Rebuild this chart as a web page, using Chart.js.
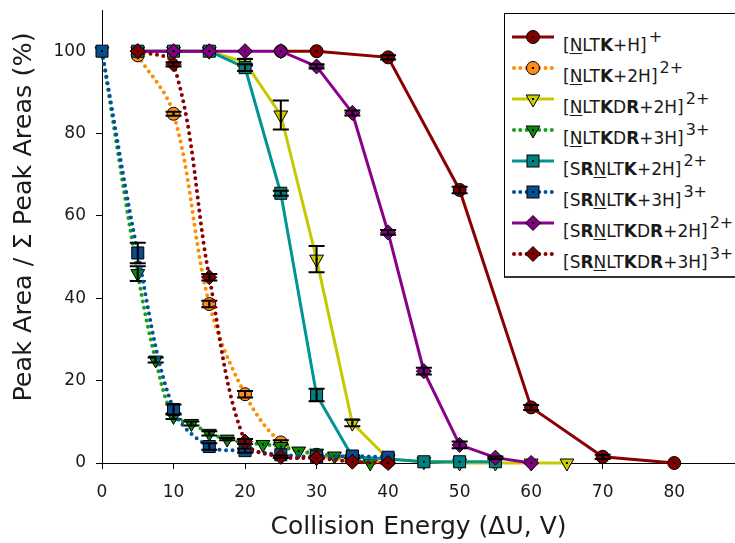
<!DOCTYPE html>
<html>
<head>
<meta charset="utf-8">
<script src="https://cdn.jsdelivr.net/npm/chart.js@4.4.0/dist/chart.umd.min.js"></script>
<style>
html,body{margin:0;padding:0;background:#fff;overflow:hidden;}
#wrap{position:relative;width:735px;height:543px;}
#c{position:absolute;left:0;top:0;}
#legend{position:absolute;left:504px;top:13px;width:260px;height:262px;border:1px solid #000;border-bottom:2px solid #333;background:#fff;font-family:"DejaVu Sans",Verdana,sans-serif;color:#1a1a1a;}
#legend .row{position:absolute;left:0;height:20px;}
#legend svg{position:absolute;left:7px;top:0;}
#legend .lbl{position:absolute;left:58px;top:0;font-size:17px;line-height:20px;white-space:nowrap;}
#legend .lbl u{text-decoration-thickness:1px;text-underline-offset:2px;}
#legend .lbl sup{font-size:16px;position:relative;top:-9px;vertical-align:baseline;margin-left:2px;}
</style>
</head>
<body>
<div id="wrap">
<canvas id="c" width="735" height="543"></canvas>
<div id="legend"></div>
</div>
<script>
// tick labels
var xTicks = [0,10,20,30,40,50,60,70,80];
var yTicks = [0,20,40,60,80,100];

// series names (html for legend)
var names = [
	'[<u>N</u>LT<b>K</b>+H]<sup>+</sup>',
	'[<u>N</u>LT<b>K</b>+2H]<sup>2+</sup>',
	'[<u>N</u>LT<b>K</b>D<b>R</b>+2H]<sup>2+</sup>',
	'[<u>N</u>LT<b>K</b>D<b>R</b>+3H]<sup>3+</sup>',
	'[S<b>R</b><u>N</u>LT<b>K</b>+2H]<sup>2+</sup>',
	'[S<b>R</b><u>N</u>LT<b>K</b>+3H]<sup>3+</sup>',
	'[S<b>R</b><u>N</u>LT<b>K</b>D<b>R</b>+2H]<sup>2+</sup>',
	'[S<b>R</b><u>N</u>LT<b>K</b>D<b>R</b>+3H]<sup>3+</sup>'
];
var plainNames = ['[NLTK+H]+','[NLTK+2H]2+','[NLTKDR+2H]2+','[NLTKDR+3H]3+','[SRNLTK+2H]2+','[SRNLTK+3H]3+','[SRNLTKDR+2H]2+','[SRNLTKDR+3H]3+'];

// values: collision energy (x), peak area % (y), error (+/-)
var s1X = [25,30,40,50,60,70,80];
var s1Y = [100,100,98.5,66.3,13.5,1.5,0];
var s1Err = [0,0,0.5,0.8,0.6,0.5,0];

var s2X = [5,10,15,20,25,30,35,40];
var s2Y = [99,84.8,38.6,16.7,5,2,0.8,0.3];
var s2Err = [0,0.5,0.8,0.8,0.5,0,0,0];

var s3X = [5,10,15,20,25,30,35,40,45,50,55,60,65];
var s3Y = [100,100,100,97.3,84.5,49.5,9.7,1,0.3,0,0,0,0];
var s3Err = [0,0,0,0.8,3.5,3.2,0.8,0,0,0,0,0,0];

var s4X = [0,5,7.5,10,12.5,15,17.5,20,22.5,25,27.5,30,32.5,35,37.5];
var s4Y = [100,46,25,11.3,9.6,7.2,5.8,5,4.5,4,2.9,2.4,1.7,1,0];
var s4Err = [0,1.8,0.6,0.6,0.5,0.5,0.3,0,0,0,0,0,0,0,0];

var s5X = [5,10,15,20,25,30,35,40,45,50,55];
var s5Y = [100,100,100,96,65.5,16.5,1.5,1,0.3,0.3,0.3];
var s5Err = [0,0,0,0.8,0.6,1.5,0.3,0,0,0,0];

var s6X = [0,5,10,15,20,25,30,35,40];
var s6Y = [100,51,13,4,3,2,1.5,1.7,1.4];
var s6Err = [0,2.5,1.2,0.8,0.5,0,0,0,0];

var s7X = [5,10,15,20,25,30,35,40,45,50,55,60];
var s7Y = [100,100,100,100,100,96.3,85,56,22.3,4.4,1.3,0];
var s7Err = [0,0,0,0,0,0.5,0.6,0.6,0.8,0.8,0.3,0];

var s8X = [5,10,15,20,25,30,35,40];
var s8Y = [100,96.8,45.1,5.2,1.5,1.2,0.3,0];
var s8Err = [0,0.5,0.8,0.6,0.3,0,0,0];

var seriesX = [s1X,s2X,s3X,s4X,s5X,s6X,s7X,s8X];
var seriesY = [s1Y,s2Y,s3Y,s4Y,s5Y,s6Y,s7Y,s8Y];
var seriesErr = [s1Err,s2Err,s3Err,s4Err,s5Err,s6Err,s7Err,s8Err];

// styles
var lineColors = ['#8b0000','#ff8c00','#c8c800','#18a018','#009494','#0050a0','#8b008b','#8b0000'];
var fillColors = ['#800000','#ff8c1a','#cccc00','#0a8a0a','#008080','#0a4c8c','#800080','#800000'];
var dotted = [false,true,false,true,false,true,false,true];
var shapes = ['circle','circle','triangle','triangle','rect','rect','rectRot','rectRot'];
var radii = {circle:6.5, triangle:8, rect:8.5, rectRot:7.5};

var FONT = '"DejaVu Sans", Verdana, sans-serif';

var datasets = [];
for (var i = 0; i < 8; i++) {
	var pts = [];
	for (var j = 0; j < seriesX[i].length; j++) {
		pts.push({x: seriesX[i][j], y: seriesY[i][j]});
	}
	datasets.push({
		label: plainNames[i],
		data: pts,
		errors: seriesErr[i],
		showLine: true,
		borderColor: lineColors[i],
		borderWidth: dotted[i] ? 4 : 3,
		borderDash: dotted[i] ? [0, 6.5] : [],
		borderCapStyle: dotted[i] ? 'round' : 'butt',
		tension: dotted[i] ? 0.35 : 0,
		pointStyle: shapes[i],
		rotation: shapes[i] === 'triangle' ? 180 : 0,
		pointRadius: radii[shapes[i]],
		pointHoverRadius: radii[shapes[i]],
		pointBackgroundColor: fillColors[i],
		pointBorderColor: '#000',
		pointBorderWidth: 1,
		clip: false,
		order: 8 - i
	});
}

// error bars, drawn right after each dataset so stacking follows the series order
var errorBars = {
	id: 'errorBars',
	afterDatasetDraw: function(chart, args) {
		var ds = chart.data.datasets[args.index];
		var xs = chart.scales.x, ys = chart.scales.y;
		var ctx = chart.ctx;
		ctx.save();
		ctx.strokeStyle = '#000';
		ctx.fillStyle = '#000';
		ctx.lineWidth = 2;
		for (var k = 0; k < ds.data.length; k++) {
			var p = ds.data[k];
			var e = ds.errors[k];
			var px = xs.getPixelForValue(p.x);
			var py = ys.getPixelForValue(p.y);
			if (e > 0) {
				var t = ys.getPixelForValue(p.y + e);
				var b = ys.getPixelForValue(p.y - e);
				ctx.beginPath();
				ctx.moveTo(px, t); ctx.lineTo(px, b);
				ctx.moveTo(px - 8, t); ctx.lineTo(px + 8, t);
				ctx.moveTo(px - 8, b); ctx.lineTo(px + 8, b);
				ctx.stroke();
			}
			ctx.fillRect(px - 1, py - 1, 2, 2);
		}
		ctx.restore();
	}
};

var yTitle = {
	id: 'yTitle',
	afterDraw: function(chart) {
		var ctx = chart.ctx;
		ctx.save();
		ctx.translate(24, 217);
		ctx.rotate(-Math.PI / 2);
		ctx.font = '25.5px ' + FONT;
		ctx.fillStyle = '#1a1a1a';
		ctx.textAlign = 'center';
		ctx.textBaseline = 'middle';
		ctx.fillText('Peak Area / \u03a3 Peak Areas (%)', 0, 0);
		ctx.restore();
	}
};

var ctx = document.getElementById('c');
var myChart = new Chart(ctx, {
	type: 'scatter',
	data: {datasets: datasets},
	plugins: [errorBars, yTitle],
	options: {
		responsive: false,
		devicePixelRatio: 1,
		animation: false,
		layout: {autoPadding: false, padding: {top: 10, right: 0, left: 0, bottom: 0}},
		plugins: {legend: {display: false}, tooltip: {enabled: false}},
		scales: {
			x: {
				type: 'linear',
				min: 0,
				max: 88.5,
				afterBuildTicks: function(scale) {
					scale.ticks = xTicks.map(function(v){ return {value: v}; });
				},
				afterFit: function(scale) {
					scale.height = 80;
					scale.paddingLeft = 0; scale.paddingRight = 0;
				},
				grid: {drawOnChartArea: false, tickLength: 6, color: '#000', tickColor: '#000'},
				border: {color: '#000', width: 1},
				ticks: {font: {family: FONT, size: 17}, color: '#1a1a1a', padding: 13, maxRotation: 0},
				title: {
					display: true,
					text: 'Collision Energy (\u0394U, V)',
					font: {family: FONT, size: 25},
					color: '#1a1a1a',
					padding: {top: 0, bottom: 1}
				}
			},
			y: {
				type: 'linear',
				min: 0,
				max: 110,
				afterBuildTicks: function(scale) {
					scale.ticks = yTicks.map(function(v){ return {value: v}; });
				},
				afterFit: function(scale) {
					scale.width = 102;
					scale.paddingTop = 0; scale.paddingBottom = 0;
				},
				grid: {drawOnChartArea: false, tickLength: 6, color: '#000', tickColor: '#000'},
				border: {color: '#000', width: 1},
				ticks: {font: {family: FONT, size: 17}, color: '#1a1a1a', padding: 10}
			}
		}
	}
});

// html legend
var leg = document.getElementById('legend');
function markerSvg(i) {
	var cx = 21, cy = 10, s = '';
	var st = 'fill="' + fillColors[i] + '" stroke="#000" stroke-width="1"';
	if (dotted[i]) {
		s += '<line x1="2" y1="10" x2="40" y2="10" stroke="' + lineColors[i] + '" stroke-width="4" stroke-linecap="round" stroke-dasharray="0 6.3"/>';
	} else {
		s += '<line x1="0" y1="10" x2="42" y2="10" stroke="' + lineColors[i] + '" stroke-width="3"/>';
	}
	if (shapes[i] === 'circle') s += '<circle cx="' + cx + '" cy="' + cy + '" r="6.5" ' + st + '/>';
	if (shapes[i] === 'rect') s += '<rect x="' + (cx - 6) + '" y="' + (cy - 6) + '" width="12" height="12" ' + st + '/>';
	if (shapes[i] === 'triangle') s += '<polygon points="' + (cx - 6.9) + ',' + (cy - 4) + ' ' + (cx + 6.9) + ',' + (cy - 4) + ' ' + cx + ',' + (cy + 8) + '" ' + st + '/>';
	if (shapes[i] === 'rectRot') s += '<polygon points="' + cx + ',' + (cy - 7.5) + ' ' + (cx + 7.5) + ',' + cy + ' ' + cx + ',' + (cy + 7.5) + ' ' + (cx - 7.5) + ',' + cy + '" ' + st + '/>';
	s += '<rect x="' + (cx - 1) + '" y="' + (cy - 1) + '" width="2" height="2" fill="#000"/>';
	return '<svg width="44" height="20">' + s + '</svg>';
}
for (var r = 0; r < names.length; r++) {
	var row = document.createElement('div');
	row.className = 'row';
	row.style.top = (13 + 31 * r) + 'px';
	row.style.width = '260px';
	row.innerHTML = markerSvg(r) + '<div class="lbl" style="top:8px">' + names[r] + '</div>';
	leg.appendChild(row);
}
</script>
</body>
</html>
